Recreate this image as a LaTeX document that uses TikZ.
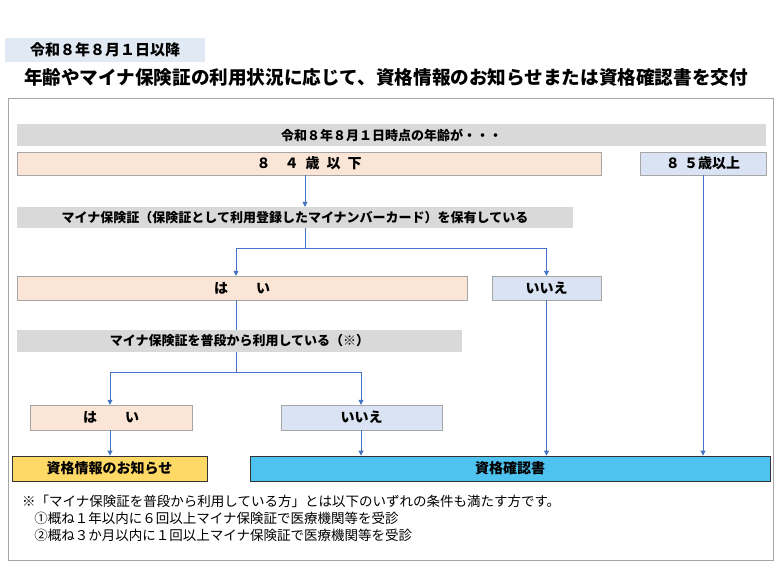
\documentclass[tikz,border=0pt]{standalone}
\usepackage{fontspec}
\setmainfont{Noto Sans CJK JP}
\usetikzlibrary{arrows.meta}
\definecolor{peach}{HTML}{FBE5D6}
\definecolor{paleblue}{HTML}{DAE3F3}
\definecolor{barGray}{HTML}{D9D9D9}
\definecolor{flow}{HTML}{4472C4}
\definecolor{notice}{HTML}{FFD966}
\definecolor{cert}{HTML}{4FC3F0}
\tikzset{
  box/.style={draw=gray!70, inner sep=0pt, font=\bfseries\fontsize{14}{14}\selectfont},
  yes/.style={box, fill=peach},
  no/.style={box, fill=paleblue},
  bar/.style={fill=barGray, inner sep=0pt, font=\bfseries\fontsize{13}{13}\selectfont},
  result/.style={draw=black!80, thick, inner sep=0pt, font=\bfseries\fontsize{14}{14}\selectfont},
  flowline/.style={flow, thick},
  flowarrow/.style={flowline, -{Triangle[length=5pt,width=5pt]}}
}
\newcommand{\boxat}[6]{% style, name, x1, y1, x2, y2
  \node[#1, minimum width={#5-#3}, minimum height={#6-#4}] (#2) at ({(#3+#5)/2},{(#4+#6)/2})}
\begin{document}
\begin{tikzpicture}[x=1pt,y=-1pt]
  \useasboundingbox (0,0) rectangle (781,585);
  % heading
  \node[fill=paleblue!80, inner sep=0pt, minimum width=200, minimum height=24,
    font=\bfseries\fontsize{15}{15}\selectfont] (date) at (105,50) {令和８年８月１日以降};
  \node[font=\bfseries\fontsize{18.6}{18.6}\selectfont] (title) at (386,77)
    {年齢やマイナ保険証の利用状況に応じて、資格情報のお知らせまたは資格確認書を交付};
  \draw[gray!70] (8,98) rectangle (773,560);

  % age
  \boxat{bar}{age}{17}{124}{766}{146} {令和８年８月１日時点の年齢が・・・};
  \boxat{yes}{young}{17}{152}{601}{175} {８\hspace{1em}４\hspace{0.5em}歳\hspace{0.5em}以\hspace{0.5em}下};
  \boxat{no}{old}{640}{152}{766}{175} {８\hspace{0.3em}５歳以上};

  % card owned
  \boxat{bar}{owns}{17}{207}{573}{228} {マイナ保険証（保険証として利用登録したマイナンバーカード）を保有している};
  \boxat{yes}{ownYes}{17}{276}{467}{300} {は\hspace{2em}い};
  \boxat{no}{ownNo}{492}{276}{601}{300} {いいえ};

  % card used
  \boxat{bar}{uses}{17}{330}{462}{352} {マイナ保険証を普段から利用している（※）};
  \boxat{yes}{useYes}{30}{405}{192}{430} {は\hspace{2em}い};
  \boxat{no}{useNo}{281}{405}{442}{430} {いいえ};

  % results
  \boxat{result, fill=notice}{info}{12}{456}{207}{481} {資格情報のお知らせ};
  \boxat{result, fill=cert}{certif}{250}{456}{770}{481} {資格確認書};

  \coordinate (split1) at (305,248);
  \coordinate (split2) at (236,372);
  \draw[flowarrow] (young.south -| split1) -- (owns.north -| split1);
  \draw[flowline] (owns.south -| split1) -- (split1);
  \draw[flowarrow] (split1) -| (ownYes.north -| split2);
  \draw[flowarrow] (split1) -| (ownNo.north);
  \draw[flowline] (ownYes.south -| split2) -- (uses.north -| split2);
  \draw[flowline] (uses.south -| split2) -- (split2);
  \draw[flowarrow] (split2) -| (useYes.north -| 110,0);
  \draw[flowarrow] (split2) -| (useNo.north -| 361,0);
  \draw[flowarrow] (useYes.south -| 110,0) -- (info.north -| 110,0);
  \draw[flowarrow] (useNo.south -| 361,0) -- (certif.north -| 361,0);
  \draw[flowarrow] (ownNo.south) -- (certif.north -| ownNo.south);
  \draw[flowarrow] (old.south) -- (certif.north -| old.south);

  % notes
  \node[anchor=west, font=\fontsize{13.5}{14}\selectfont, align=left, inner sep=0pt] (note) at (22,518)
    {※「マイナ保険証を普段から利用している方」とは以下のいずれの条件も満たす方です。\\[3pt]
     \hspace{0.9em}①概ね１年以内に６回以上マイナ保険証で医療機関等を受診\\[3pt]
     \hspace{0.9em}②概ね３か月以内に１回以上マイナ保険証で医療機関等を受診};
\end{tikzpicture}
\end{document}
